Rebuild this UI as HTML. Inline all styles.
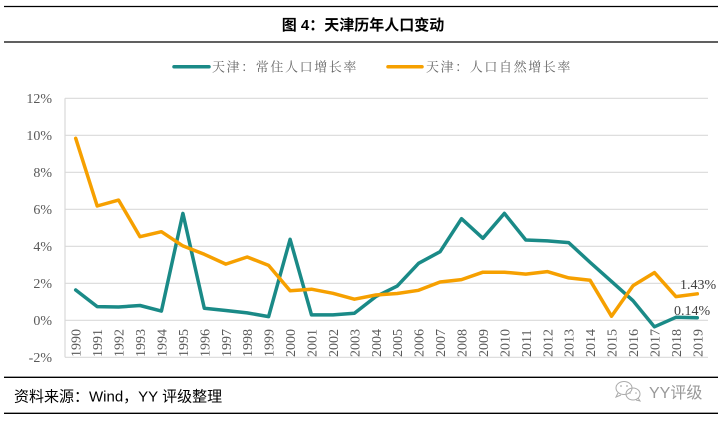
<!DOCTYPE html>
<html>
<head>
<meta charset="utf-8">
<style>
html,body{margin:0;padding:0;background:#fff;}
body{width:727px;height:423px;overflow:hidden;}
svg{display:block;}
</style>
</head>
<body>
<svg width="727" height="423" viewBox="0 0 727 423" xmlns="http://www.w3.org/2000/svg">
<rect width="727" height="423" fill="#fff"/>
<!-- header lines -->
<line x1="4" y1="6.5" x2="718" y2="6.5" stroke="#000" stroke-width="1.3"/>
<line x1="4" y1="42" x2="718" y2="42" stroke="#000" stroke-width="1.3"/>
<text x="363" y="30" text-anchor="middle" font-family="Liberation Sans, Noto Sans CJK SC, sans-serif" font-size="15" font-weight="bold" fill="#000">图 4：天津历年人口变动</text>

<!-- legend -->
<line x1="174" y1="66.7" x2="209" y2="66.7" stroke="#1A8A87" stroke-width="3.5" stroke-linecap="round"/>
<text x="212" y="71.5" font-family="Noto Serif CJK SC, serif" font-size="13" letter-spacing="1.6" fill="#666">天津：常住人口增长率</text>
<line x1="388" y1="66.7" x2="422" y2="66.7" stroke="#F6A000" stroke-width="3.5" stroke-linecap="round"/>
<text x="426" y="71.5" font-family="Noto Serif CJK SC, serif" font-size="13" letter-spacing="1.6" fill="#666">天津：人口自然增长率</text>

<!-- gridlines -->
<g stroke="#d9d9d9" stroke-width="1.2">
<line x1="65" y1="98.3" x2="708" y2="98.3"/>
<line x1="65" y1="135.3" x2="708" y2="135.3"/>
<line x1="65" y1="172.3" x2="708" y2="172.3"/>
<line x1="65" y1="209.3" x2="708" y2="209.3"/>
<line x1="65" y1="246.3" x2="708" y2="246.3"/>
<line x1="65" y1="283.3" x2="708" y2="283.3"/>
<line x1="65" y1="320.3" x2="708" y2="320.3"/>
<line x1="65" y1="357.3" x2="708" y2="357.3"/>
<line x1="65" y1="98.3" x2="65" y2="357.3"/>
</g>

<!-- y labels -->
<g font-family="Liberation Serif, serif" font-size="14" fill="#595959" text-anchor="end">
<text x="52" y="103">12%</text>
<text x="52" y="140">10%</text>
<text x="52" y="177">8%</text>
<text x="52" y="214">6%</text>
<text x="52" y="251">4%</text>
<text x="52" y="288">2%</text>
<text x="52" y="325">0%</text>
<text x="52" y="362">-2%</text>
</g>

<!-- x labels -->
<g font-family="Liberation Serif, serif" font-size="14" fill="#595959" id="xl"></g>

<!-- series -->
<polyline id="teal" fill="none" stroke="#1A8A87" stroke-width="3.5" stroke-linejoin="round" stroke-linecap="round" points=""/>
<polyline id="orange" fill="none" stroke="#F6A000" stroke-width="3.5" stroke-linejoin="round" stroke-linecap="round" points=""/>

<!-- data labels -->
<text x="680" y="289" font-family="Liberation Serif, serif" font-size="14" fill="#404040">1.43%</text>
<text x="674" y="315" font-family="Liberation Serif, serif" font-size="14" fill="#404040">0.14%</text>

<!-- footer -->
<line x1="4" y1="377.3" x2="718" y2="377.3" stroke="#000" stroke-width="1.3"/>
<text x="14" y="401.5" font-family="Liberation Sans, Noto Sans CJK SC, sans-serif" font-size="15" fill="#000">资料来源：Wind，YY 评级整理</text>
<line x1="4" y1="413.3" x2="718" y2="413.3" stroke="#000" stroke-width="1.3"/>

<!-- wechat logo -->
<g fill="none" stroke="#aaa" stroke-width="1">
<ellipse cx="624" cy="388" rx="8" ry="6.5"/>
<path d="M618 393 l-2 4 l5 -2"/>
<ellipse cx="633" cy="394" rx="7" ry="6"/>
<path d="M638 398 l2 3 l-4 -1"/>
</g>
<g fill="#aaa">
<circle cx="621" cy="386" r="0.9"/><circle cx="627" cy="386" r="0.9"/>
<circle cx="630" cy="393" r="0.8"/><circle cx="636" cy="393" r="0.8"/>
</g>
<text x="649" y="398" font-family="Liberation Sans, Noto Sans CJK SC, sans-serif" font-size="16" fill="#999">YY评级</text>
</svg>
<script>
(function(){
var teal=[1.64,0.74,0.72,0.80,0.50,5.78,0.65,0.53,0.40,0.20,4.38,0.29,0.29,0.38,1.28,1.85,3.08,3.71,5.49,4.43,5.78,4.34,4.29,4.20,3.13,2.10,1.06,-0.35,0.16,0.14];
var orange=[9.84,6.18,6.5,4.52,4.79,4.02,3.57,3.04,3.42,2.97,1.6,1.68,1.46,1.14,1.37,1.45,1.62,2.07,2.2,2.6,2.6,2.5,2.63,2.29,2.16,0.22,1.87,2.58,1.28,1.43];
var w=643/30;
function X(i){return 65+w*(i+0.5);}
function Y(v){return 320.3-18.5*v;}
function pts(a){return a.map(function(v,i){return X(i).toFixed(1)+","+Y(v).toFixed(1);}).join(" ");}
document.getElementById("teal").setAttribute("points",pts(teal));
document.getElementById("orange").setAttribute("points",pts(orange));
var g=document.getElementById("xl");var ns="http://www.w3.org/2000/svg";
for(var i=0;i<30;i++){
var t=document.createElementNS(ns,"text");
var x=X(i)+5,y=357;
t.setAttribute("x",x);t.setAttribute("y",y);
t.setAttribute("transform","rotate(-90 "+x+" "+y+")");
t.textContent=String(1990+i);
g.appendChild(t);
}
})();
</script>
</body>
</html>
